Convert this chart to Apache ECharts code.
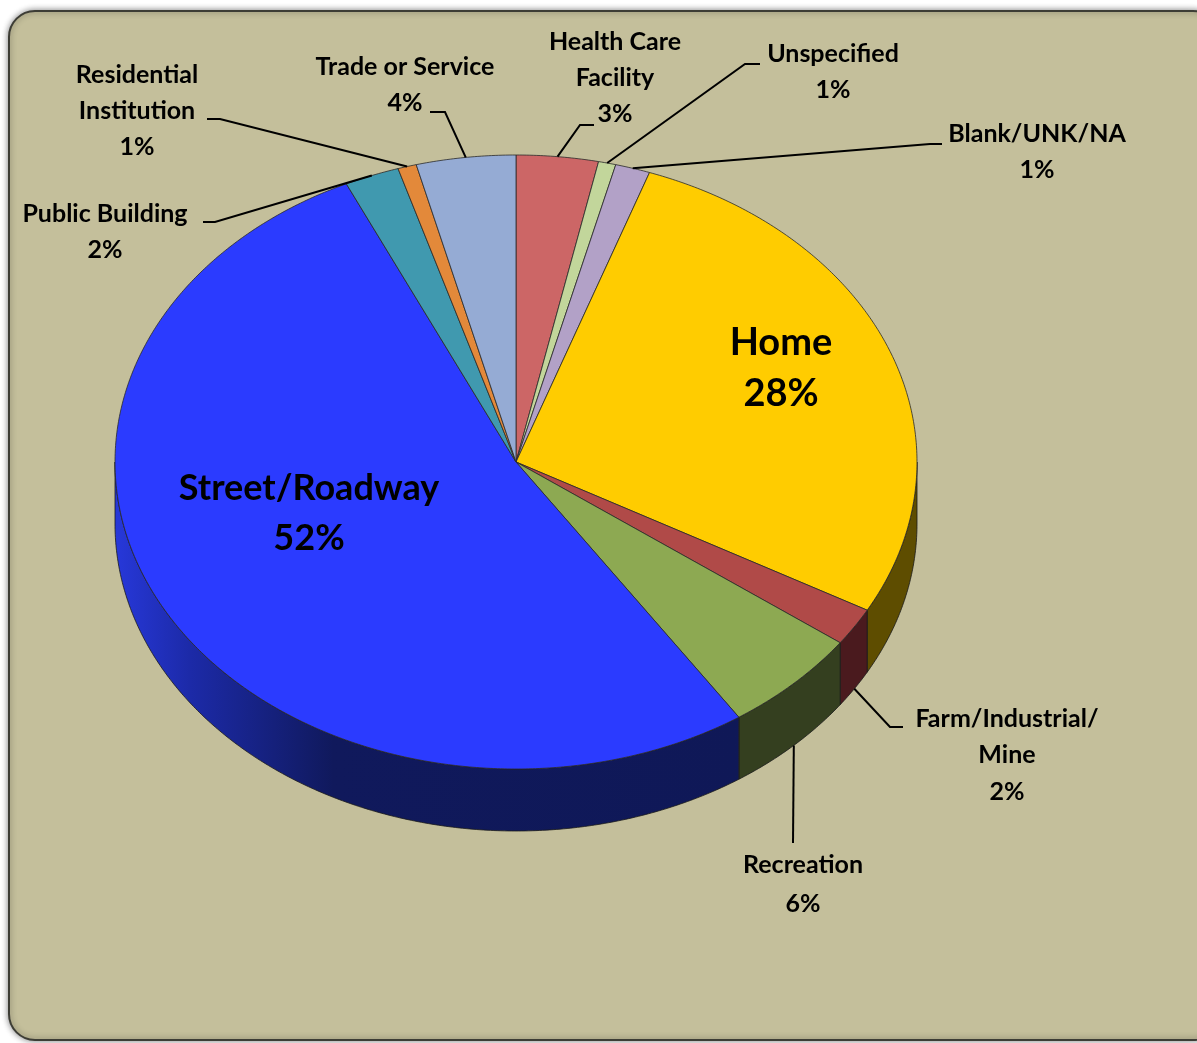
<!DOCTYPE html>
<html>
<head>
<meta charset="utf-8">
<script src="https://cdn.jsdelivr.net/npm/echarts@6/dist/echarts.min.js"></script>
<style>
  html, body { margin: 0; padding: 0; background: #fff; }
  #main { width: 1197px; height: 1043px; }
</style>
</head>
<body>
<div id="main"></div>
<script>
// slices, clockwise from 12 o'clock
const categories = ['Health Care\nFacility', 'Unspecified', 'Blank/UNK/NA', 'Home', 'Farm/Industrial/\nMine',
    'Recreation', 'Street/Roadway', 'Public Building', 'Residential\nInstitution', 'Trade or Service'];
const values = [3.3, 0.7, 1.4, 27.6, 2.0, 5.6, 52.4, 2.2, 0.75, 4.0];

const topColors = ['#CC6666', '#C2D69B', '#B2A1C7', '#FFCC00', '#B04A48', '#8DA952', '#2B3BFF', '#4099AF', '#E3893A', '#95ABD4'];
const sideColors = ['#5A2A2A', '#56603F', '#4E4660', '#5E4D00', '#4A1A1E', '#343F1F', null, '#1C4450', '#643C18', '#42465E'];

// ellipse layout (px)
const CX = 516, CY = 462, RX = 401, RY = 307, DEPTH = 62;

// label placement: text centre, line height, font size, leader knee/end
const labelLayout = [
    { at: [615, 78], lh: 36, fs: 25, line: [[580, 125], [594, 125]] },
    { at: [833, 72], lh: 36, fs: 25, line: [[745, 64], [760, 64]] },
    { at: [1037, 152], lh: 36, fs: 25, line: [[930, 144], [942, 144]] },
    { at: [781, 368], lh: 51, fs: 38, line: null },
    { at: [1007, 755], lh: 36.5, fs: 25, line: [[890, 727], [903, 727]] },
    { at: [803, 884], lh: 39, fs: 25, line: [[793, 843]] },
    { at: [309, 513], lh: 50, fs: 36, line: null },
    { at: [105, 232], lh: 36, fs: 25, line: [[215, 222], [203, 222]] },
    { at: [137, 111], lh: 36, fs: 25, line: [[220, 119], [207, 119]] },
    { at: [405, 85], lh: 36, fs: 25, line: [[445, 112], [430, 112]] }
];

const total = values.reduce((a, b) => a + b, 0);
let acc = 0;
const seriesData = values.map(v => {
    const d = [v, acc];
    acc += v;
    return d;
});

function pt(deg, dy) {
    const r = deg * Math.PI / 180;
    return [CX + RX * Math.sin(r), CY - RY * Math.cos(r) + dy];
}
function arc(a0, a1, dy) {
    const pts = [];
    const n = Math.max(2, Math.ceil((a1 - a0) * 2));
    for (let k = 0; k <= n; k++) {
        pts.push(pt(a0 + (a1 - a0) * k / n, dy));
    }
    return pts;
}

function renderItem(params, api) {
    const i = params.dataIndex;
    const v = api.value(0);
    const s = api.value(1);
    const a0 = s / total * 360;
    const a1 = (s + v) / total * 360;
    const children = [];

    // front wall
    const f0 = Math.max(a0, 90), f1 = Math.min(a1, 270);
    if (f1 > f0) {
        const fill = sideColors[i] || {
            type: 'linear', x: 0, y: 0, x2: 1, y2: 0,
            colorStops: [
                { offset: 0, color: '#2738DA' },
                { offset: 0.12, color: '#1C2AA8' },
                { offset: 0.35, color: '#10195C' },
                { offset: 1, color: '#0F1857' }
            ]
        };
        children.push({
            type: 'polygon',
            z2: 1,
            shape: { points: arc(f0, f1, 0).concat(arc(f0, f1, DEPTH).reverse()) },
            style: { fill, stroke: '#1a1a1a', lineWidth: 0.8 }
        });
    }

    // top face
    children.push({
        type: 'polygon',
        z2: 2,
        shape: { points: [[CX, CY]].concat(arc(a0, a1, 0)) },
        style: { fill: topColors[i], stroke: '#2a2a2a', lineWidth: 0.8 }
    });

    // label + leader
    const lay = labelLayout[i];
    const pct = Math.round(v / total * 100) + '%';
    children.push({
        type: 'text',
        z2: 4,
        style: {
            text: categories[i] + '\n' + pct,
            x: lay.at[0], y: lay.at[1],
            align: 'center', verticalAlign: 'middle',
            fontFamily: 'Lato', fontWeight: 'bold', fontSize: lay.fs,
            lineHeight: lay.lh, fill: '#000'
        }
    });
    if (lay.line) {
        const mid = (a0 + a1) / 2;
        const front = mid > 90 && mid < 270;
        const anchor = pt(mid, front ? DEPTH : 0);
        children.push({
            type: 'polyline',
            z2: 3,
            shape: { points: [anchor].concat(lay.line) },
            style: { stroke: '#000', lineWidth: 2, fill: null }
        });
    }

    return { type: 'group', children };
}

const chart = echarts.init(document.getElementById('main'));
chart.setOption({
    backgroundColor: '#fff',
    animation: false,
    graphic: [{
        type: 'rect',
        z: -10,
        shape: { x: 9, y: 11, width: 1210, height: 1029, r: 26 },
        style: {
            fill: '#C4BF9B',
            stroke: '#3d3d35',
            lineWidth: 2,
            shadowBlur: 6,
            shadowColor: 'rgba(0,0,0,0.45)'
        }
    }],
    series: [{
        type: 'custom',
        coordinateSystem: 'none',
        renderItem,
        data: seriesData,
        silent: true
    }]
});
</script>
</body>
</html>
